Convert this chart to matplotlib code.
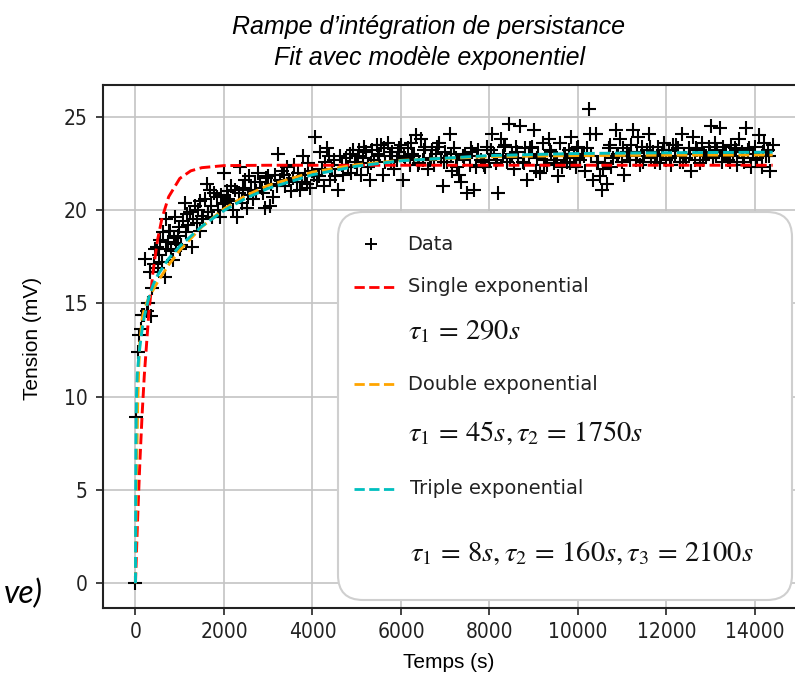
import matplotlib
matplotlib.use('Agg')
import matplotlib.pyplot as plt
from matplotlib.patches import FancyBboxPatch
from matplotlib.lines import Line2D

plt.rcParams['mathtext.fontset'] = 'stix'

rise_t = [0, 10, 50, 90, 120, 150, 200, 210, 250, 290, 320, 350, 380, 420]
rise_v = [0, 8.9, 12.4, 13.3, 13.6, 14.4, 14.4, 17.4, 14.6, 15.0, 16.7, 14.3, 15.8, 17.1]

knee_t = [450, 480, 500, 530, 560, 590, 620, 660, 680, 700, 730, 760, 775, 800, 845,
          870, 890, 920, 960, 990, 1010, 1040, 1070, 1110, 1140, 1160, 1190, 1230, 1270,
          1300, 1340, 1380, 1420, 1450, 1460, 1500, 1530, 1570, 1610, 1640, 1680, 1710,
          1740, 1780, 1840, 1870, 1900, 1930, 1970]
knee_v = [17.9, 18.0, 16.9, 17.6, 18.4, 17.2, 18.8, 16.4, 17.9, 19.5, 18.3, 18.9, 18.9, 17.8, 17.3,
          18.5, 19.6, 18.2, 18.6, 19.1, 17.9, 18.1, 19.4, 20.4, 18.8, 19.8, 19.2, 19.9, 18.0,
          19.5, 20.2, 19.3, 20.0, 18.9, 20.5, 19.7, 19.5, 20.6, 21.4, 19.9, 21.1, 20.2,
          19.6, 20.9, 20.7, 20.0, 19.6, 20.8, 20.3]

slope_t = [2000, 2030, 2060, 2100, 2130, 2160, 2200, 2240, 2290, 2330, 2360, 2400, 2440, 2480,
           2510, 2540, 2570, 2610, 2650, 2690, 2730, 2770, 2810, 2850, 2880, 2920, 2960, 3000,
           3030, 3070, 3110, 3150, 3190, 3220, 3260, 3300, 3350, 3390, 3430, 3470, 3510, 3550,
           3590, 3640, 3680, 3720, 3760, 3790, 3830, 3870, 3910, 3950, 3990, 4030, 4060, 4100,
           4140, 4170, 4210, 4250, 4290, 4330, 4370, 4400, 4440, 4480, 4520, 4580, 4620, 4660,
           4700, 4750, 4800, 4840, 4880, 4920, 4960]
slope_v = [22.0, 20.4, 21.0, 20.6, 20.5, 21.3, 20.0, 21.1, 19.6, 20.9, 22.3, 20.4, 21.2, 21.6,
           20.1, 20.8, 21.8, 21.1, 20.6, 21.5, 21.0, 22.0, 21.5, 21.2, 20.9, 20.1, 21.7, 21.8,
           20.2, 21.4, 20.7, 21.9, 21.3, 23.0, 21.6, 22.1, 21.9, 21.3, 22.3, 21.6, 21.0, 21.7,
           22.4, 21.5, 22.0, 21.1, 21.5, 22.9, 21.9, 21.4, 22.5, 21.2, 22.1, 21.9, 23.9, 21.6,
           21.8, 23.1, 22.2, 21.3, 22.6, 23.3, 22.9, 21.6, 22.2, 22.7, 21.8, 21.1, 22.9, 22.4,
           21.9, 22.8, 22.3, 23.0, 22.0, 23.2, 22.6]

flat_t = [5000, 5050, 5100, 5150, 5200, 5250, 5300, 5350, 5400, 5450,
          5500, 5550, 5600, 5650, 5700, 5750, 5800, 5850, 5900, 5950,
          6000, 6050, 6100, 6150, 6200, 6250, 6300, 6350, 6400, 6450,
          6500, 6550, 6600, 6650, 6700, 6750, 6800, 6850, 6900, 6950,
          7000, 7050, 7100, 7150, 7200, 7250, 7300, 7350, 7400, 7450,
          7500, 7550, 7600, 7650, 7700, 7750, 7800, 7850, 7900, 7950,
          8000, 8050, 8100, 8150, 8200, 8250, 8300, 8350, 8400, 8450,
          8500, 8550, 8600, 8650, 8700, 8750, 8800, 8850, 8900, 8950,
          9000, 9050, 9100, 9150, 9200, 9250, 9300, 9350, 9400, 9450,
          9500, 9550, 9600, 9650, 9700, 9750, 9800, 9850, 9900, 9950,
          10000, 10050, 10100, 10150, 10200, 10250, 10300, 10350, 10400, 10450,
          10500, 10550, 10600, 10650, 10700, 10750, 10800, 10850, 10900, 10950,
          11000, 11050, 11100, 11150, 11200, 11250, 11300, 11350, 11400, 11450,
          11500, 11550, 11600, 11650, 11700, 11750, 11800, 11850, 11900, 11950,
          12000, 12050, 12100, 12150, 12200, 12250, 12300, 12350, 12400, 12450,
          12500, 12550, 12600, 12650, 12700, 12750, 12800, 12850, 12900, 12950,
          13000, 13050, 13100, 13150, 13200, 13250, 13300, 13350, 13400, 13450,
          13500, 13550, 13600, 13650, 13700, 13750, 13800, 13850, 13900, 13950,
          14000, 14050, 14100, 14150, 14200, 14250, 14300, 14350, 14400]
flat_v = [22.4, 23.2, 21.9, 22.8, 23.1, 22.3, 21.6, 23.2, 22.7, 23.5,
          22.9, 23.5, 21.9, 22.6, 23.6, 22.9, 23.1, 22.2, 22.7, 23.3,
          23.5, 21.6, 22.8, 23.3, 22.4, 23.0, 22.9, 24.0, 22.5, 23.8,
          22.7, 23.4, 22.2, 22.7, 23.2, 22.4, 23.0, 23.6, 22.8, 21.3,
          23.1, 22.6, 24.1, 22.1, 23.3, 22.8, 21.9, 21.5, 22.9, 23.0,
          20.9, 22.4, 23.1, 21.1, 22.3, 23.2, 22.7, 22.6, 22.3, 23.4,
          22.7, 24.1, 23.0, 22.5, 20.9, 23.8, 22.9, 23.5, 22.6, 24.6,
          23.0, 22.2, 23.4, 22.8, 24.5, 22.6, 23.3, 21.6, 22.9, 23.4,
          24.3, 22.1, 23.0, 22.0, 23.6, 22.7, 22.4, 23.8, 23.1, 22.5,
          22.9, 21.8, 23.6, 22.3, 23.0, 22.6, 23.2, 23.9, 22.8, 22.3,
          23.4, 22.7, 23.0, 22.1, 23.3, 25.4, 22.9, 21.6, 24.1, 22.6,
          21.8, 21.1, 22.5, 21.4, 23.3, 22.3, 22.8, 24.3, 23.0, 23.8,
          22.6, 21.9, 23.1, 22.9, 23.5, 24.3, 22.7, 23.9, 22.4, 23.4,
          22.9, 23.2, 24.1, 22.8, 23.1, 22.6, 23.4, 22.5, 23.0, 23.6,
          22.7, 23.2, 22.4, 23.5, 22.9, 23.3, 22.6, 24.1, 23.0, 22.8,
          23.3, 22.1, 23.9, 22.7, 23.2, 22.5, 23.6, 23.0, 22.9, 23.4,
          24.5, 22.8, 23.6, 23.2, 24.4, 22.6, 23.1, 23.0, 22.7, 23.5,
          22.9, 23.3, 22.4, 23.8, 23.1, 22.6, 24.4, 23.2, 22.3, 23.0,
          23.4, 22.8, 24.0, 22.3, 23.6, 22.9, 23.2, 22.1, 23.5]

# extra points between the samples above, where the band is thickest
band_t = [5025, 5175, 5325, 5475, 5625, 5775, 5925, 6075, 6225, 6375, 6525, 6675, 6825,
          6975, 7125, 7275, 7425, 7575, 7725, 7875, 8025, 8175, 8325, 8475, 8625, 8775,
          8925, 9075, 9225, 9375, 9525, 9675, 9825, 9975, 10125, 10275, 10425, 10575,
          10725, 10875, 11025, 11175, 11325, 11475, 11625, 11775, 11925, 12075, 12225,
          12375, 12525, 12675, 12825, 12975, 13125, 13275, 13425, 13575, 13725, 13875,
          14025, 14175, 14325]
band_v = [22.9, 23.4, 22.5, 23.0, 23.3, 22.6, 23.1, 22.9, 23.6, 22.4, 23.2, 22.8, 23.4,
          22.6, 23.0, 22.3, 22.7, 23.3, 22.9, 22.4, 23.2, 22.7, 23.4, 22.8, 23.1, 22.5,
          23.3, 22.8, 22.4, 23.2, 22.7, 23.0, 22.5, 23.3, 22.9, 24.1, 22.6, 22.2, 23.5,
          22.9, 23.3, 22.7, 23.1, 22.6, 23.4, 22.9, 23.2, 22.8, 23.5, 22.6, 23.0, 23.3,
          22.7, 23.1, 22.9, 23.4, 22.6, 23.2, 22.8, 23.3, 22.7, 23.1, 22.9]

data_t = rise_t + knee_t + slope_t + flat_t + band_t
data_v = rise_v + knee_v + slope_v + flat_v + band_v

# --- fitted curves ---
single_t = [0, 25, 50, 100, 150, 200, 300, 400, 500, 600, 750, 1000, 1250, 1500, 2000, 3000, 14400]
single_v = [0, 1.85, 3.55, 6.53, 9.05, 11.16, 14.44, 16.76, 18.41, 19.57, 20.71, 21.69, 22.1,
            22.27, 22.38, 22.4, 22.4]

double_t = [0, 10, 25, 50, 75, 100, 150, 200, 300, 500, 750, 1000, 1500, 2000, 2500, 3000,
            4000, 5000, 6000, 8000, 10000, 12000, 14400]
double_v = [0, 2.8, 6.05, 9.6, 11.65, 12.9, 14.15, 14.7, 15.3, 16.15, 17.06, 17.84, 19.1,
            20.06, 20.78, 21.32, 22.03, 22.43, 22.66, 22.86, 22.92, 22.94, 22.95]

triple_t = [0, 5, 10, 20, 40, 75, 100, 150, 200, 300, 400, 500, 750, 1000, 1500, 2000, 2500,
            3000, 4000, 5000, 6000, 8000, 10000, 12000, 14400]
triple_v = [0, 4.8, 7.5, 9.85, 11.2, 12.15, 12.7, 13.6, 14.3, 15.3, 16.0, 16.5, 17.4, 18.06,
            19.13, 19.97, 20.64, 21.16, 21.89, 22.35, 22.64, 22.92, 23.03, 23.07, 23.1]

x_ticks = [0, 2000, 4000, 6000, 8000, 10000, 12000, 14000]
y_ticks = [0, 5, 10, 15, 20, 25]

W, H = 795, 677


def fx(px):
    return px / W


def fy(py):
    return 1 - py / H


fig = plt.figure(figsize=(W / 100, H / 100), dpi=100)
ax = fig.add_axes([103 / W, 1 - 607.7 / H, (806 - 103) / W, (607.7 - 85) / H])

ax.plot(data_t, data_v, ls='none', marker='+', color='black', ms=10, mew=1.5, zorder=3)
ax.plot(single_t, single_v, '--', color='red', lw=2.1, zorder=4)
ax.plot(double_t, double_v, '--', color='orange', lw=2.1, zorder=4)
ax.plot(triple_t, triple_v, '--', color='c', lw=2.1, zorder=4)

ax.set_xlim(-734, 15153)
ax.set_ylim(-1.31, 26.7)
ax.set_xticks(x_ticks)
ax.set_yticks(y_ticks)
ax.grid(True, color='#c4c4c4', lw=1.2)
ax.set_axisbelow(True)
ax.tick_params(axis='both', labelsize=15, length=5, width=1.2, colors='#222222')
ax.tick_params(axis='y', pad=6)
ax.tick_params(axis='x', pad=5)
for lab in ax.get_xticklabels() + ax.get_yticklabels():
    lab.set_fontstretch('condensed')
ax.spines['right'].set_visible(False)
for s in ax.spines.values():
    s.set_linewidth(1.5)
    s.set_color('#222222')

# titles and axis labels
fig.text(fx(429), fy(27), 'Rampe d\u2019intégration de persistance', ha='center', va='center',
         fontsize=18, style='italic', family='Liberation Sans')
fig.text(fx(429), fy(58), 'Fit avec modèle exponentiel', ha='center', va='center',
         fontsize=18, style='italic', family='Liberation Sans')
fig.text(fx(449), fy(663), 'Temps (s)', ha='center', va='center', fontsize=15,
         family='Liberation Sans')
fig.text(fx(33), fy(338), 'Tension (mV)', ha='center', va='center', rotation=90,
         fontsize=15, family='Liberation Sans')
fig.text(fx(43), fy(594), 've)', ha='right', va='center', fontsize=23, style='italic',
         family='Lato')

# legend box drawn on top
box = FancyBboxPatch((3.38, 0.77), 4.54, 3.88, boxstyle='round,pad=0,rounding_size=0.25',
                     transform=fig.dpi_scale_trans, facecolor='white', edgecolor='#cfcfcf',
                     lw=1.5, zorder=5)
fig.add_artist(box)

fig.add_artist(Line2D([fx(371)], [fy(244)], transform=fig.transFigure, ls='none',
                      marker='+', color='black', ms=8, mew=1.4, zorder=6))
for y, col in [(287, 'red'), (384, 'orange'), (489, 'c')]:
    fig.add_artist(Line2D([fx(354), fx(394)], [fy(y), fy(y)], transform=fig.transFigure,
                          ls='--', color=col, lw=2, zorder=6))

entries = [(407, 244, 'Data'), (408, 287, 'Single exponential'),
           (408, 384, 'Double exponential'), (410, 489, 'Triple exponential')]
for x, y, txt in entries:
    fig.text(fx(x), fy(y), txt, ha='left', va='center', fontsize=14, color='#222222',
             zorder=7)

taus = [(408, 331, r'$\tau_1\,=\,290s$'), (408, 433, r'$\tau_1\,=\,45s,\tau_2\,=\,1750s$'),
        (410, 553, r'$\tau_1\,=\,8s,\tau_2\,=\,160s,\tau_3\,=\,2100s$')]
for x, y, txt in taus:
    fig.text(fx(x), fy(y), txt, ha='left', va='center', fontsize=20.5, color='#111111',
             zorder=7)

fig.savefig('out.png', dpi=100)
